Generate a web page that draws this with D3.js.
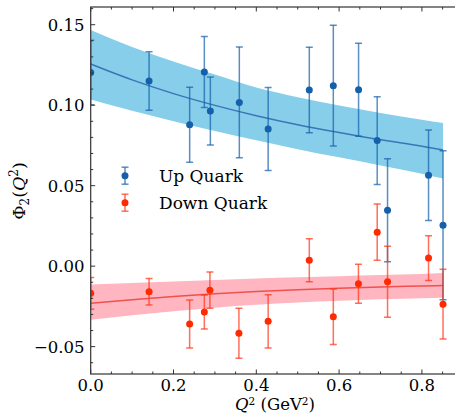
<!DOCTYPE html>
<html>
<head>
<meta charset="utf-8">
<script src="https://d3js.org/d3.v7.min.js"></script>
<style>
  body { margin: 0; background: #fff; }
  svg text { font-family: "DejaVu Serif", serif; fill: #000; }
</style>
</head>
<body>
<svg id="chart" width="455" height="418"></svg>
<script>
// Donnees
const upQ   = [0.000, 0.141, 0.239, 0.2745, 0.289, 0.359, 0.4286, 0.528, 0.586, 0.647, 0.692, 0.717, 0.816, 0.851];
const upVal = [0.1203, 0.1150, 0.0879, 0.1206, 0.0964, 0.1017, 0.0852, 0.1094, 0.1121, 0.1096, 0.0780, 0.0347, 0.0565, 0.0254];
const upErr = [0.0200, 0.0182, 0.0233, 0.0220, 0.0211, 0.0344, 0.0258, 0.0266, 0.0375, 0.0289, 0.0273, 0.0320, 0.0281, 0.0463];

const downQ   = [0.000, 0.141, 0.239, 0.2745, 0.288, 0.358, 0.4286, 0.528, 0.586, 0.6467, 0.692, 0.717, 0.816, 0.851];
const downVal = [-0.0169, -0.0159, -0.0360, -0.0285, -0.0149, -0.0417, -0.0343, 0.0037, -0.0314, -0.0109, 0.0211, -0.0097, 0.0050, -0.0236];
const downErr = [0.0098, 0.0083, 0.0149, 0.0106, 0.0112, 0.0155, 0.0166, 0.0134, 0.0172, 0.0121, 0.0175, 0.0220, 0.0139, 0.0217];

// Ajustement et bande d'incertitude
const fitQ      = [0, 0.1, 0.2, 0.3, 0.4, 0.5, 0.6, 0.7, 0.8, 0.851];
const upFit     = [0.1256, 0.1157, 0.1072, 0.0999, 0.0935, 0.0879, 0.0830, 0.0785, 0.0745, 0.0722];
const upHigh    = [0.1467, 0.1362, 0.1272, 0.1190, 0.1110, 0.1050, 0.0998, 0.0952, 0.0910, 0.0890];
const upLow     = [0.1036, 0.0965, 0.0900, 0.0840, 0.0782, 0.0727, 0.0676, 0.0626, 0.0574, 0.0544];
const downFit   = [-0.0231, -0.0208, -0.0188, -0.0171, -0.0157, -0.0146, -0.0137, -0.0129, -0.0123, -0.0120];
const downHigh  = [-0.0114, -0.0104, -0.0095, -0.0086, -0.0077, -0.0069, -0.0062, -0.0055, -0.0048, -0.0043];
const downLow   = [-0.0333, -0.0305, -0.0280, -0.0258, -0.0240, -0.0226, -0.0215, -0.0206, -0.0199, -0.0196];

const xTicks = [0, 0.2, 0.4, 0.6, 0.8];
const yTicks = [-0.05, 0, 0.05, 0.10, 0.15];
const seriesNames = ["Up Quark", "Down Quark"];

// Couleurs
const upPoint = "#1460aa", upBar = "rgba(20,96,170,0.7)", upLine = "#3a76b6", upBand = "#87ceeb";
const downPoint = "#ff2a00", downBar = "rgba(255,50,20,0.7)", downLine = "#f0514c", downBand = "#ffb6c1";

const pLeft = 90.7, pRight = 460, pTop = 7, pBottom = 374;
const svg = d3.select("#chart");

const x = d3.scaleLinear().domain([0, 0.892]).range([pLeft, pRight]);
const y = d3.scaleLinear().domain([-0.067, 0.161]).range([pBottom, pTop]);

svg.append("clipPath").attr("id", "clip")
  .append("rect").attr("x", pLeft).attr("y", pTop).attr("width", pRight - pLeft).attr("height", pBottom - pTop);
const plot = svg.append("g").attr("clip-path", "url(#clip)");

function band(qs, lo, hi, color) {
  const data = qs.map((q, i) => ({ q, lo: lo[i], hi: hi[i] }));
  plot.append("path").datum(data)
    .attr("fill", color).attr("stroke", "none")
    .attr("d", d3.area().curve(d3.curveMonotoneX).x(d => x(d.q)).y0(d => y(d.lo)).y1(d => y(d.hi)));
}
function fitLine(qs, vals, color) {
  const data = qs.map((q, i) => ({ q, v: vals[i] }));
  plot.append("path").datum(data)
    .attr("fill", "none").attr("stroke", color).attr("stroke-width", 1.5)
    .attr("d", d3.line().curve(d3.curveMonotoneX).x(d => x(d.q)).y(d => y(d.v)));
}
function errPoints(qs, vals, errs, barColor, ptColor) {
  const data = qs.map((q, i) => ({ q, v: vals[i], e: errs[i] }));
  const g = plot.append("g");
  const item = g.selectAll("g").data(data).join("g");
  item.append("line")
    .attr("x1", d => x(d.q)).attr("x2", d => x(d.q))
    .attr("y1", d => y(d.v - d.e)).attr("y2", d => y(d.v + d.e))
    .attr("stroke", barColor).attr("stroke-width", 1.5);
  [-1, 1].forEach(s => {
    item.append("line")
      .attr("x1", d => x(d.q) - 3.5).attr("x2", d => x(d.q) + 3.5)
      .attr("y1", d => y(d.v + s * d.e)).attr("y2", d => y(d.v + s * d.e))
      .attr("stroke", barColor).attr("stroke-width", 1.5);
  });
  item.append("circle")
    .attr("cx", d => x(d.q)).attr("cy", d => y(d.v)).attr("r", 3.5)
    .attr("fill", ptColor);
}

band(fitQ, upLow, upHigh, upBand);
fitLine(fitQ, upFit, upLine);
band(fitQ, downLow, downHigh, downBand);
fitLine(fitQ, downFit, downLine);
errPoints(upQ, upVal, upErr, upBar, upPoint);
errPoints(downQ, downVal, downErr, downBar, downPoint);

// Axes (ticks vers l'interieur)
const axisColor = "#333";
const xMinor = d3.range(0, 0.9, 0.05);
const yMinor = d3.range(-0.06, 0.161, 0.01);
const tk = svg.append("g").attr("stroke", axisColor);
xMinor.forEach(v => {
  const major = xTicks.some(t => Math.abs(t - v) < 1e-6);
  const L = major ? 4.5 : 2.5;
  tk.append("line").attr("x1", x(v)).attr("x2", x(v)).attr("y1", pBottom).attr("y2", pBottom - L);
  tk.append("line").attr("x1", x(v)).attr("x2", x(v)).attr("y1", pTop).attr("y2", pTop + L);
});
yMinor.forEach(v => {
  const major = yTicks.some(t => Math.abs(t - v) < 1e-6);
  const L = major ? 4.5 : 2.5;
  tk.append("line").attr("x1", pLeft).attr("x2", pLeft + L).attr("y1", y(v)).attr("y2", y(v));
});
svg.append("rect").attr("x", pLeft).attr("y", pTop).attr("width", pRight - pLeft).attr("height", pBottom - pTop)
  .attr("fill", "none").attr("stroke", axisColor).attr("stroke-width", 1.2);

svg.append("g").selectAll("text").data(xTicks).join("text")
  .attr("x", d => x(d)).attr("y", 390.5).attr("text-anchor", "middle").attr("font-size", 16.5)
  .text(d => d3.format(".1f")(d));
svg.append("g").selectAll("text").data(yTicks).join("text")
  .attr("x", 84.5).attr("y", d => y(d) + 6).attr("text-anchor", "end").attr("font-size", 16.5)
  .text(d => d3.format(".2f")(d).replace("-", "\u2212"));

// Titres des axes
const xl = svg.append("text").attr("x", 275).attr("y", 410).attr("text-anchor", "middle").attr("font-size", 16.5);
xl.append("tspan").attr("font-style", "italic").text("Q");
xl.append("tspan").attr("font-size", 10.5).attr("dy", -5).text("2");
xl.append("tspan").attr("dy", 5).text(" (GeV");
xl.append("tspan").attr("font-size", 10.5).attr("dy", -5).text("2");
xl.append("tspan").attr("dy", 5).text(")");

const yl = svg.append("text").attr("transform", "translate(25,191) rotate(-90)")
  .attr("text-anchor", "middle").attr("font-size", 17.5);
yl.append("tspan").text("\u03a6");
yl.append("tspan").attr("font-size", 12).attr("dy", 4).text("2");
yl.append("tspan").attr("dy", -4).text("(");
yl.append("tspan").attr("font-style", "italic").text("Q");
yl.append("tspan").attr("font-size", 12).attr("dy", -7).text("2");
yl.append("tspan").attr("dy", 7).text(")");

// Legende
const legend = svg.append("g");
const legColors = [[upBar, upPoint], [downBar, downPoint]];
seriesNames.forEach((name, i) => {
  const cy = 175.7 + i * 27;
  const cx = 125;
  const e = 8.5;
  legend.append("line").attr("x1", cx).attr("x2", cx).attr("y1", cy - e).attr("y2", cy + e)
    .attr("stroke", legColors[i][0]).attr("stroke-width", 1.5);
  [-1, 1].forEach(s => legend.append("line").attr("x1", cx - 3.5).attr("x2", cx + 3.5)
    .attr("y1", cy + s * e).attr("y2", cy + s * e).attr("stroke", legColors[i][0]).attr("stroke-width", 1.5));
  legend.append("circle").attr("cx", cx).attr("cy", cy).attr("r", 3.5).attr("fill", legColors[i][1]);
  legend.append("text").attr("x", 159).attr("y", cy + 6).attr("font-size", 17).text(name);
});
</script>
</body>
</html>
